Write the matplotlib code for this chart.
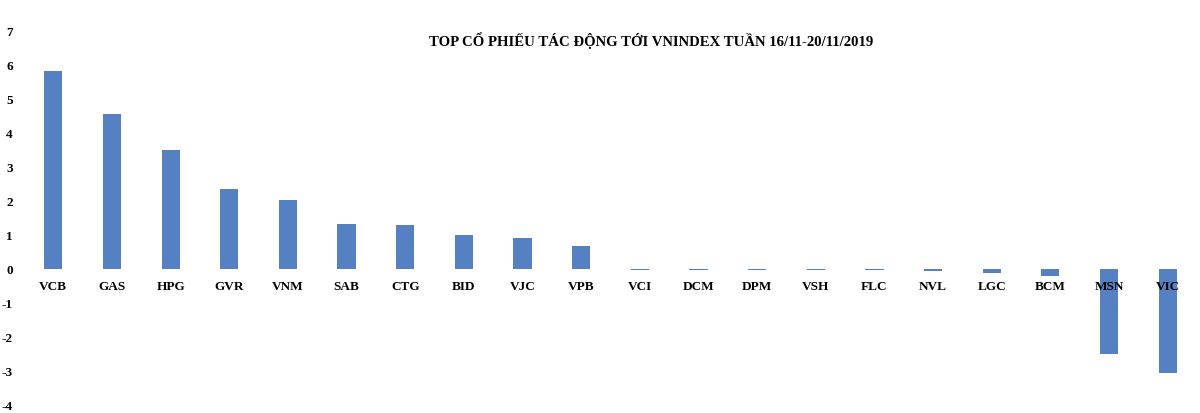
import matplotlib
matplotlib.use("Agg")
import matplotlib.pyplot as plt

categories = ["VCB", "GAS", "HPG", "GVR", "VNM", "SAB", "CTG", "BID", "VJC", "VPB",
              "VCI", "DCM", "DPM", "VSH", "FLC", "NVL", "LGC", "BCM", "MSN", "VIC"]
values = [5.83, 4.56, 3.49, 2.34, 2.02, 1.31, 1.28, 1.0, 0.91, 0.68,
          -0.03, -0.03, -0.04, -0.04, -0.05, -0.07, -0.13, -0.2, -2.5, -3.07]
yticks = [-4, -3, -2, -1, 0, 1, 2, 3, 4, 5, 6, 7]
title = "TOP CỔ PHIẾU TÁC ĐỘNG TỚI VNINDEX TUẦN 16/11-20/11/2019"

plt.rcParams['font.family'] = ['Liberation Serif', 'DejaVu Serif']
plt.rcParams['font.weight'] = 'bold'

fig = plt.figure(figsize=(12, 4.14), dpi=100)
ax = fig.add_axes([0.02, 0.02, 0.9775, 0.903])

x = list(range(len(categories)))
ax.bar(x, values, width=0.31, color='#5580C1')

ax.set_xlim(-0.5, len(categories) - 0.5)
ax.set_ylim(-4, 7)
ax.set_yticks(yticks)
ax.set_yticklabels([str(v) for v in yticks], fontsize=9.5, fontweight='bold')
ax.tick_params(axis='y', length=0, pad=8)

ax.spines['bottom'].set_position(('data', 0))
for s in ax.spines.values():
    s.set_visible(False)
ax.set_xticks(x)
ax.set_xticklabels(categories, fontsize=9.5, fontweight='bold')
ax.tick_params(axis='x', length=0, pad=8)

fig.text(0.543, 0.903, title, ha='center', va='center', fontsize=10.6, fontweight='bold')

fig.savefig("out.png", dpi=100)
